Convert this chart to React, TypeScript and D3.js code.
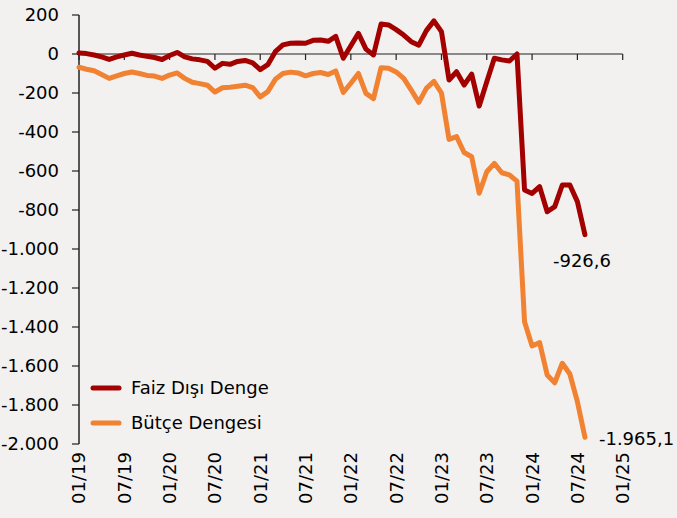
import React from "react";
import { scaleLinear, line, formatLocale, range } from "d3";

// aylık seriler, 01/19 - 08/24
const faizDisiDenge = [
  5, 2, -5, -15, -28, -15, -5, 4, -5, -12, -18, -28, -8, 8, -15, -25, -30, -38,
  -73, -48, -53, -38, -33, -45, -80, -55, 12, 47, 55, 57, 55, 70, 72, 65, 90,
  -22, 42, 106, 25, -5, 154, 149, 125, 97, 63, 45, 120, 170, 115, -133, -91,
  -159, -103, -267, -142, -22, -30, -36, 0, -697, -715, -680, -809, -783, -672,
  -672, -757, -926.6,
];
const butceDengesi = [
  -68, -78, -86, -105, -125, -112, -100, -92, -100, -110, -113, -125, -108, -97,
  -125, -145, -152, -160, -195, -173, -170, -165, -160, -172, -220, -193, -130,
  -100, -93, -97, -112, -100, -95, -105, -87, -197, -150, -100, -202, -229, -70,
  -73, -92, -125, -185, -248, -176, -140, -200, -438, -424, -505, -527, -714,
  -604, -561, -609, -620, -652, -1373, -1497, -1480, -1646, -1686, -1586, -1641,
  -1783, -1965.1,
];
const xTickLabels = [
  "01/19", "07/19", "01/20", "07/20", "01/21", "07/21", "01/22",
  "07/22", "01/23", "07/23", "01/24", "07/24", "01/25",
];
const yTicks = range(-2000, 201, 200);

const series = [
  { name: "Faiz Dışı Denge", values: faizDisiDenge, color: "#A30000" },
  { name: "Bütçe Dengesi", values: butceDengesi, color: "#F08232" },
];

const trLocale = formatLocale({
  decimal: ",",
  thousands: ".",
  grouping: [3],
  currency: ["", ""],
  minus: "-",
});
const fmtTick = trLocale.format(",.0f");
const fmtLast = trLocale.format(",.1f");

const font = "'DejaVu Sans', Verdana, sans-serif";

export default function App() {
  const width = 677;
  const height = 518;
  const left = 79;
  const right = 622.7;
  const top = 15;
  const bottom = 444;

  const xScale = scaleLinear().domain([0, 72]).range([left, right]);
  const yScale = scaleLinear().domain([-2000, 200]).range([bottom, top]);
  const y0 = yScale(0);

  const lineGen = line<number>()
    .x((_, i) => xScale(i))
    .y((d) => yScale(d));

  const lastIdx = faizDisiDenge.length - 1;

  return (
    <svg
      width={width}
      height={height}
      style={{ position: "absolute", left: 0, top: 0 }}
      fontFamily={font}
    >
      <rect width={width} height={height} fill="#F2F1EF" />

      {/* y axis */}
      <line x1={left} x2={left} y1={top} y2={bottom} stroke="#222" strokeWidth={1.5} />
      {yTicks.map((t) => (
        <g key={t} transform={`translate(0,${yScale(t)})`}>
          <line x1={left - 7} x2={left} stroke="#222" strokeWidth={1.2} />
          <text x={59} dy="0.36em" textAnchor="end" fontSize={18} fill="#000">
            {fmtTick(t)}
          </text>
        </g>
      ))}

      {/* x axis on zero */}
      <line x1={left} x2={right} y1={y0} y2={y0} stroke="#222" strokeWidth={1.2} />
      {xTickLabels.map((lab, i) => {
        const x = xScale(i * 6);
        return (
          <g key={lab}>
            <line x1={x} x2={x} y1={y0} y2={y0 + 6} stroke="#222" strokeWidth={1.2} />
            <text
              transform={`translate(${x},452) rotate(-90)`}
              dy="0.36em"
              textAnchor="end"
              fontSize={18}
              fill="#000"
            >
              {lab}
            </text>
          </g>
        );
      })}

      {series.map((s) => (
        <path
          key={s.name}
          d={lineGen(s.values) || ""}
          fill="none"
          stroke={s.color}
          strokeWidth={5}
          strokeLinejoin="round"
          strokeLinecap="round"
        />
      ))}

      {/* son değerler */}
      <text
        x={xScale(lastIdx) - 32}
        y={yScale(faizDisiDenge[lastIdx]) + 32}
        fontSize={18}
        fill="#000"
      >
        {fmtLast(faizDisiDenge[lastIdx])}
      </text>
      <text
        x={xScale(lastIdx) + 14}
        y={yScale(butceDengesi[lastIdx]) + 8}
        fontSize={18}
        fill="#000"
      >
        {fmtLast(butceDengesi[lastIdx])}
      </text>

      {/* legend */}
      {series.map((s, i) => (
        <g key={s.name} transform={`translate(0,${388 + i * 35})`}>
          <line x1={93} x2={119} stroke={s.color} strokeWidth={5} strokeLinecap="round" />
          <text x={131} dy="0.36em" fontSize={18} fill="#000">
            {s.name}
          </text>
        </g>
      ))}
    </svg>
  );
}
